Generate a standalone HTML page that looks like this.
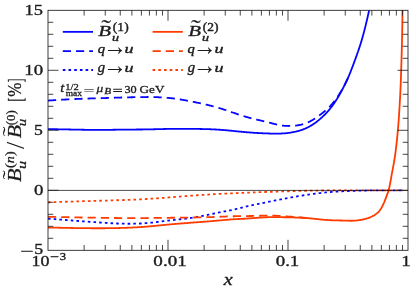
<!DOCTYPE html>
<html><head><meta charset="utf-8"><title>plot</title>
<style>html,body{margin:0;padding:0;background:#fff;}svg{display:block;will-change:transform;}</style></head>
<body>
<svg width="415" height="290" viewBox="0 0 415 290">
<rect width="415" height="290" fill="#fff"/>
<defs><clipPath id="c"><rect x="48.0" y="10.3" width="360.0" height="240.0"/></clipPath></defs>
<g clip-path="url(#c)" fill="none" stroke-linejoin="round">
<path d="M48.00,202.30L48.89,202.27L49.78,202.25L50.67,202.22L51.56,202.19L52.45,202.16L53.34,202.14L54.22,202.11L55.11,202.08L56.00,202.05L56.89,202.03L57.78,202.00L58.67,201.97L59.56,201.94L60.45,201.92L61.34,201.89L62.23,201.86L63.12,201.84L64.00,201.81L64.89,201.78L65.78,201.75L66.67,201.73L67.56,201.70L68.45,201.67L69.34,201.65L70.23,201.62L71.12,201.59L72.01,201.57L72.90,201.54L73.78,201.51L74.67,201.48L75.56,201.46L76.45,201.43L77.34,201.40L78.23,201.38L79.12,201.35L80.01,201.32L80.90,201.30L81.79,201.27L82.67,201.25L83.56,201.22L84.45,201.19L85.34,201.17L86.23,201.14L87.12,201.11L88.01,201.09L88.90,201.06L89.79,201.04L90.68,201.01L91.56,200.98L92.45,200.96L93.34,200.93L94.23,200.91L95.12,200.88L96.01,200.86L96.90,200.83L97.79,200.81L98.68,200.78L99.57,200.76L100.45,200.73L101.34,200.71L102.23,200.68L103.12,200.65L104.01,200.63L104.90,200.60L105.79,200.58L106.68,200.55L107.57,200.53L108.46,200.50L109.34,200.48L110.23,200.45L111.12,200.42L112.01,200.40L112.90,200.37L113.79,200.34L114.68,200.32L115.57,200.29L116.46,200.26L117.35,200.23L118.24,200.20L119.13,200.18L120.01,200.15L120.90,200.12L121.79,200.09L122.68,200.06L123.57,200.02L124.46,199.99L125.35,199.96L126.24,199.93L127.13,199.89L128.02,199.86L128.90,199.83L129.79,199.79L130.68,199.75L131.57,199.72L132.46,199.68L133.35,199.64L134.24,199.60L135.13,199.57L136.01,199.53L136.90,199.48L137.79,199.44L138.68,199.40L139.57,199.36L140.46,199.31L141.34,199.27L142.23,199.22L143.12,199.18L144.01,199.13L144.90,199.08L145.79,199.03L146.67,198.98L147.56,198.93L148.45,198.87L149.34,198.82L150.23,198.76L151.11,198.71L152.00,198.65L152.89,198.59L153.78,198.54L154.66,198.48L155.55,198.42L156.44,198.35L157.32,198.29L158.21,198.23L159.10,198.17L159.99,198.10L160.87,198.04L161.76,197.97L162.65,197.91L163.53,197.84L164.42,197.78L165.31,197.71L166.19,197.64L167.08,197.57L167.97,197.50L168.85,197.44L169.74,197.37L170.63,197.30L171.51,197.23L172.40,197.16L173.29,197.09L174.17,197.02L175.06,196.95L175.95,196.88L176.83,196.81L177.72,196.74L178.61,196.67L179.49,196.60L180.38,196.53L181.27,196.46L182.16,196.39L183.04,196.32L183.93,196.26L184.82,196.19L185.70,196.12L186.59,196.05L187.48,195.98L188.36,195.92L189.25,195.85L190.14,195.78L191.03,195.72L191.91,195.65L192.80,195.59L193.69,195.52L194.58,195.46L195.46,195.40L196.35,195.33L197.24,195.27L198.13,195.21L199.01,195.15L199.90,195.09L200.79,195.03L201.68,194.97L202.56,194.92L203.45,194.86L204.34,194.80L205.23,194.75L206.12,194.69L207.00,194.63L207.89,194.58L208.78,194.53L209.67,194.47L210.55,194.42L211.44,194.37L212.33,194.32L213.22,194.26L214.11,194.21L214.99,194.16L215.88,194.11L216.77,194.06L217.66,194.02L218.55,193.97L219.44,193.92L220.32,193.87L221.21,193.83L222.10,193.78L222.99,193.73L223.88,193.69L224.76,193.64L225.65,193.60L226.54,193.55L227.43,193.51L228.32,193.47L229.21,193.42L230.09,193.38L230.98,193.34L231.87,193.30L232.76,193.26L233.65,193.22L234.54,193.18L235.42,193.14L236.31,193.10L237.20,193.06L238.09,193.02L238.98,192.98L239.87,192.94L240.76,192.90L241.64,192.87L242.53,192.83L243.42,192.79L244.31,192.75L245.20,192.72L246.09,192.68L246.98,192.65L247.87,192.61L248.75,192.58L249.64,192.54L250.53,192.51L251.42,192.47L252.31,192.44L253.20,192.41L254.09,192.38L254.98,192.34L255.87,192.31L256.75,192.28L257.64,192.25L258.53,192.22L259.42,192.19L260.31,192.15L261.20,192.12L262.09,192.09L262.98,192.06L263.87,192.03L264.75,192.01L265.64,191.98L266.53,191.95L267.42,191.92L268.31,191.89L269.20,191.86L270.09,191.83L270.98,191.81L271.87,191.78L272.76,191.75L273.64,191.72L274.53,191.69L275.42,191.67L276.31,191.64L277.20,191.61L278.09,191.58L278.98,191.56L279.87,191.53L280.76,191.50L281.65,191.47L282.53,191.45L283.42,191.42L284.31,191.39L285.20,191.36L286.09,191.33L286.98,191.31L287.87,191.28L288.76,191.25L289.65,191.22L290.54,191.20L291.43,191.17L292.31,191.14L293.20,191.11L294.09,191.09L294.98,191.06L295.87,191.03L296.76,191.01L297.65,190.98L298.54,190.96L299.43,190.93L300.32,190.91L301.21,190.88L302.09,190.86L302.98,190.84L303.87,190.82L304.76,190.79L305.65,190.77L306.54,190.75L307.43,190.73L308.32,190.71L309.21,190.70L310.10,190.68L310.99,190.66L311.88,190.65L312.77,190.63L313.65,190.62L314.54,190.60L315.43,190.59L316.32,190.58L317.21,190.56L318.10,190.55L318.99,190.54L319.88,190.53L320.77,190.52L321.66,190.51L322.55,190.50L323.44,190.49L324.33,190.49L325.22,190.48L326.11,190.47L327.00,190.47L327.89,190.46L328.77,190.45L329.66,190.45L330.55,190.44L331.44,190.44L332.33,190.43L333.22,190.43L334.11,190.42L335.00,190.42L335.89,190.42L336.78,190.41L337.67,190.41L338.56,190.41L339.45,190.40L340.34,190.40L341.23,190.40L342.12,190.39L343.01,190.39L343.90,190.39L344.79,190.38L345.67,190.38L346.56,190.38L347.45,190.38L348.34,190.37L349.23,190.37L350.12,190.37L351.01,190.37L351.90,190.36L352.79,190.36L353.68,190.36L354.57,190.36L355.46,190.35L356.35,190.35L357.24,190.35L358.13,190.35L359.02,190.35L359.91,190.35L360.80,190.34L361.68,190.34L362.57,190.34L363.46,190.34L364.35,190.34L365.24,190.34L366.13,190.33L367.02,190.33L367.91,190.33L368.80,190.33L369.69,190.33L370.58,190.33L371.47,190.33L372.36,190.32L373.25,190.32L374.14,190.32L375.03,190.32L375.92,190.32L376.81,190.32L377.69,190.32L378.58,190.32L379.47,190.32L380.36,190.32L381.25,190.31L382.14,190.31L383.03,190.31L383.92,190.31L384.81,190.31L385.70,190.31L386.59,190.31L387.48,190.31L388.37,190.31L389.26,190.31L390.15,190.31L391.04,190.31L391.93,190.31L392.82,190.31L393.71,190.31L394.59,190.30L395.48,190.30L396.37,190.30L397.26,190.30L398.15,190.30L399.04,190.30L399.93,190.30L400.82,190.30L401.71,190.30L402.60,190.30" stroke="#ff3c00" stroke-width="1.8" stroke-dasharray="2.6 3.1"/>
<path d="M48.00,218.60L48.89,218.67L49.78,218.74L50.68,218.81L51.57,218.89L52.46,218.96L53.35,219.03L54.25,219.10L55.14,219.17L56.03,219.24L56.93,219.31L57.82,219.38L58.71,219.46L59.60,219.53L60.50,219.60L61.39,219.67L62.28,219.74L63.18,219.81L64.07,219.88L64.96,219.95L65.85,220.02L66.75,220.09L67.64,220.16L68.53,220.23L69.43,220.30L70.32,220.37L71.21,220.44L72.11,220.51L73.00,220.58L73.90,220.64L74.79,220.71L75.68,220.78L76.58,220.85L77.47,220.92L78.36,220.98L79.26,221.05L80.15,221.12L81.05,221.19L81.94,221.25L82.83,221.32L83.73,221.39L84.62,221.45L85.52,221.52L86.41,221.58L87.30,221.65L88.20,221.71L89.09,221.78L89.99,221.84L90.88,221.90L91.78,221.97L92.67,222.03L93.57,222.09L94.46,222.16L95.35,222.22L96.25,222.28L97.14,222.34L98.04,222.40L98.93,222.46L99.83,222.52L100.72,222.58L101.62,222.64L102.52,222.70L103.41,222.76L104.31,222.81L105.20,222.87L106.10,222.93L107.00,222.98L107.89,223.03L108.79,223.08L109.69,223.13L110.58,223.18L111.48,223.23L112.38,223.27L113.27,223.32L114.17,223.36L115.07,223.40L115.97,223.44L116.86,223.48L117.76,223.51L118.66,223.55L119.56,223.58L120.45,223.60L121.35,223.63L122.25,223.66L123.14,223.68L124.04,223.70L124.94,223.71L125.84,223.73L126.73,223.74L127.63,223.74L128.53,223.75L129.42,223.75L130.32,223.75L131.22,223.75L132.11,223.74L133.01,223.73L133.91,223.72L134.80,223.70L135.70,223.68L136.59,223.66L137.49,223.63L138.38,223.60L139.28,223.56L140.17,223.52L141.07,223.48L141.96,223.43L142.86,223.38L143.75,223.32L144.65,223.26L145.54,223.20L146.43,223.13L147.32,223.06L148.22,222.98L149.11,222.90L150.00,222.81L150.89,222.72L151.78,222.63L152.67,222.53L153.57,222.43L154.46,222.33L155.35,222.22L156.23,222.11L157.12,222.00L158.01,221.89L158.90,221.78L159.79,221.67L160.68,221.55L161.57,221.44L162.46,221.32L163.35,221.21L164.24,221.09L165.13,220.98L166.02,220.87L166.90,220.75L167.79,220.65L168.68,220.54L169.57,220.43L170.46,220.33L171.35,220.23L172.24,220.13L173.14,220.03L174.03,219.93L174.92,219.84L175.81,219.74L176.70,219.65L177.59,219.55L178.48,219.46L179.38,219.36L180.27,219.26L181.16,219.17L182.05,219.07L182.94,218.97L183.83,218.87L184.72,218.76L185.61,218.66L186.50,218.55L187.39,218.44L188.28,218.32L189.17,218.21L190.05,218.09L190.94,217.96L191.83,217.83L192.71,217.70L193.60,217.56L194.48,217.42L195.37,217.28L196.25,217.12L197.13,216.97L198.01,216.81L198.89,216.65L199.77,216.48L200.65,216.31L201.53,216.14L202.41,215.96L203.29,215.78L204.17,215.60L205.05,215.42L205.92,215.24L206.80,215.05L207.68,214.87L208.56,214.68L209.43,214.50L210.31,214.31L211.19,214.12L212.06,213.94L212.94,213.75L213.82,213.56L214.69,213.38L215.57,213.20L216.45,213.01L217.33,212.84L218.21,212.66L219.08,212.48L219.96,212.31L220.84,212.14L221.72,211.97L222.60,211.80L223.48,211.64L224.36,211.47L225.24,211.30L226.12,211.14L227.00,210.97L227.88,210.79L228.76,210.62L229.64,210.44L230.52,210.26L231.40,210.08L232.27,209.89L233.15,209.69L234.02,209.49L234.90,209.29L235.77,209.08L236.64,208.86L237.50,208.65L238.37,208.43L239.24,208.20L240.11,207.98L240.98,207.76L241.84,207.54L242.71,207.32L243.58,207.10L244.46,206.89L245.33,206.68L246.20,206.48L247.08,206.27L247.95,206.08L248.83,205.88L249.70,205.69L250.58,205.50L251.45,205.31L252.33,205.12L253.21,204.94L254.08,204.76L254.96,204.58L255.84,204.40L256.72,204.22L257.59,204.04L258.47,203.86L259.35,203.68L260.22,203.50L261.10,203.32L261.98,203.14L262.86,202.96L263.73,202.78L264.61,202.61L265.49,202.43L266.37,202.25L267.24,202.07L268.12,201.89L269.00,201.71L269.88,201.53L270.76,201.36L271.64,201.18L272.51,201.00L273.39,200.83L274.27,200.65L275.15,200.48L276.03,200.30L276.91,200.13L277.79,199.95L278.67,199.78L279.55,199.61L280.43,199.44L281.31,199.27L282.19,199.10L283.07,198.93L283.95,198.76L284.83,198.59L285.71,198.43L286.60,198.26L287.48,198.10L288.36,197.93L289.24,197.77L290.12,197.61L291.00,197.45L291.89,197.29L292.77,197.13L293.65,196.98L294.53,196.82L295.42,196.67L296.30,196.52L297.18,196.37L298.07,196.22L298.95,196.07L299.83,195.92L300.72,195.78L301.60,195.63L302.49,195.49L303.37,195.35L304.26,195.21L305.14,195.08L306.03,194.94L306.91,194.81L307.80,194.68L308.69,194.55L309.57,194.42L310.46,194.29L311.35,194.17L312.24,194.04L313.13,193.92L314.02,193.81L314.90,193.69L315.79,193.58L316.68,193.46L317.57,193.35L318.46,193.25L319.35,193.14L320.24,193.04L321.14,192.94L322.03,192.84L322.92,192.74L323.81,192.65L324.70,192.56L325.59,192.47L326.49,192.38L327.38,192.30L328.27,192.21L329.16,192.13L330.05,192.06L330.95,191.98L331.84,191.91L332.73,191.84L333.63,191.78L334.52,191.71L335.41,191.65L336.31,191.59L337.20,191.54L338.10,191.49L338.99,191.43L339.88,191.39L340.78,191.34L341.68,191.29L342.57,191.25L343.47,191.21L344.36,191.17L345.26,191.13L346.15,191.09L347.05,191.06L347.94,191.02L348.84,190.99L349.73,190.95L350.63,190.92L351.53,190.89L352.42,190.86L353.32,190.83L354.21,190.80L355.11,190.78L356.00,190.75L356.90,190.73L357.80,190.70L358.69,190.68L359.59,190.65L360.48,190.63L361.38,190.61L362.28,190.59L363.17,190.57L364.07,190.55L364.96,190.53L365.86,190.52L366.76,190.50L367.65,190.48L368.55,190.47L369.44,190.46L370.34,190.44L371.24,190.43L372.13,190.42L373.03,190.41L373.92,190.40L374.82,190.39L375.72,190.38L376.61,190.37L377.51,190.36L378.40,190.35L379.30,190.35L380.20,190.34L381.09,190.33L381.99,190.33L382.88,190.32L383.78,190.32L384.68,190.32L385.57,190.31L386.47,190.31L387.36,190.31L388.26,190.30L389.16,190.30L390.05,190.30L390.95,190.30L391.85,190.30L392.74,190.30L393.64,190.30L394.53,190.30L395.43,190.30L396.33,190.30L397.22,190.30L398.12,190.30L399.02,190.30L399.91,190.30L400.81,190.30L401.70,190.30L402.60,190.30" stroke="#0505ff" stroke-width="1.8" stroke-dasharray="2.6 3.1"/>
<path d="M48.00,216.75L48.68,216.77L49.36,216.78L50.04,216.80L50.71,216.81L51.39,216.83L52.07,216.84L52.75,216.86L53.43,216.87L54.11,216.89L54.79,216.91L55.47,216.92L56.14,216.94L56.82,216.95L57.50,216.97L58.18,216.99L58.86,217.00L59.54,217.02L60.22,217.04L60.89,217.05L61.57,217.07L62.25,217.08L62.93,217.10L63.61,217.12L64.29,217.13L64.97,217.15L65.64,217.16L66.32,217.18L67.00,217.20L67.68,217.21L68.36,217.23L69.04,217.24L69.72,217.26L70.39,217.27L71.07,217.29L71.75,217.31L72.43,217.32L73.11,217.34L73.79,217.35L74.47,217.37L75.14,217.38L75.82,217.39L76.50,217.41L77.18,217.42L77.86,217.44L78.54,217.45L79.21,217.46L79.89,217.48L80.57,217.49L81.25,217.50L81.93,217.52L82.61,217.53L83.29,217.54L83.96,217.56L84.64,217.57L85.32,217.58L86.00,217.59L86.68,217.60L87.36,217.61L88.03,217.62L88.71,217.63L89.39,217.65L90.07,217.66L90.75,217.66L91.43,217.67L92.11,217.68L92.78,217.69L93.46,217.70L94.14,217.71L94.82,217.72L95.50,217.72L96.18,217.73L96.85,217.74L97.53,217.75L98.21,217.75L98.89,217.76L99.57,217.77L100.25,217.77L100.92,217.78L101.60,217.79L102.28,217.80L102.96,217.80L103.64,217.81L104.32,217.82L105.00,217.83L105.67,217.84L106.35,217.85L107.03,217.86L107.71,217.87L108.39,217.88L109.07,217.89L109.75,217.90L110.42,217.91L111.10,217.92L111.78,217.93L112.46,217.94L113.14,217.95L113.82,217.96L114.50,217.98L115.18,217.99L115.85,218.00L116.53,218.01L117.21,218.02L117.89,218.03L118.57,218.04L119.25,218.05L119.93,218.05L120.60,218.06L121.28,218.07L121.96,218.08L122.64,218.09L123.32,218.10L124.00,218.10L124.68,218.11L125.35,218.12L126.03,218.13L126.71,218.13L127.39,218.14L128.07,218.14L128.75,218.15L129.42,218.15L130.10,218.16L130.78,218.16L131.46,218.16L132.14,218.16L132.81,218.16L133.49,218.17L134.17,218.17L134.85,218.17L135.53,218.16L136.20,218.16L136.88,218.16L137.56,218.16L138.24,218.15L138.92,218.15L139.59,218.14L140.27,218.14L140.95,218.13L141.63,218.12L142.30,218.11L142.98,218.10L143.66,218.09L144.33,218.08L145.01,218.07L145.69,218.05L146.36,218.04L147.04,218.02L147.72,218.01L148.40,217.99L149.07,217.97L149.75,217.96L150.42,217.95L151.10,217.94L151.78,217.93L152.45,217.92L153.13,217.91L153.80,217.90L154.48,217.90L155.15,217.89L155.83,217.89L156.50,217.88L157.18,217.88L157.86,217.88L158.53,217.88L159.21,217.87L159.88,217.87L160.56,217.87L161.23,217.87L161.91,217.86L162.58,217.86L163.26,217.86L163.93,217.85L164.61,217.85L165.28,217.84L165.96,217.84L166.63,217.83L167.31,217.82L167.98,217.82L168.66,217.81L169.34,217.79L170.01,217.78L170.69,217.77L171.36,217.76L172.04,217.75L172.72,217.74L173.39,217.74L174.07,217.73L174.75,217.72L175.42,217.71L176.10,217.70L176.77,217.70L177.45,217.69L178.13,217.68L178.80,217.67L179.48,217.67L180.16,217.66L180.83,217.65L181.51,217.65L182.19,217.64L182.86,217.63L183.54,217.63L184.22,217.62L184.89,217.61L185.57,217.60L186.25,217.60L186.92,217.59L187.60,217.58L188.28,217.58L188.95,217.57L189.63,217.56L190.31,217.55L190.98,217.54L191.66,217.53L192.34,217.52L193.01,217.51L193.69,217.50L194.36,217.49L195.04,217.48L195.72,217.47L196.39,217.46L197.07,217.45L197.75,217.44L198.42,217.42L199.10,217.41L199.78,217.40L200.45,217.38L201.13,217.37L201.81,217.35L202.48,217.33L203.16,217.32L203.84,217.30L204.51,217.28L205.19,217.27L205.86,217.25L206.54,217.23L207.22,217.21L207.89,217.19L208.57,217.17L209.25,217.15L209.92,217.13L210.60,217.11L211.28,217.09L211.95,217.06L212.63,217.04L213.31,217.02L213.98,216.99L214.66,216.97L215.33,216.94L216.01,216.92L216.69,216.89L217.36,216.87L218.04,216.84L218.72,216.81L219.39,216.78L220.07,216.76L220.75,216.73L221.42,216.70L222.10,216.67L222.77,216.64L223.45,216.61L224.13,216.58L224.80,216.56L225.48,216.53L226.15,216.50L226.83,216.47L227.51,216.45L228.18,216.42L228.86,216.40L229.53,216.37L230.21,216.35L230.89,216.33L231.56,216.31L232.24,216.29L232.92,216.27L233.59,216.26L234.27,216.24L234.95,216.23L235.63,216.22L236.30,216.21L236.98,216.20L237.66,216.19L238.34,216.18L239.01,216.17L239.69,216.16L240.37,216.15L241.05,216.14L241.73,216.13L242.40,216.12L243.08,216.11L243.76,216.10L244.44,216.09L245.11,216.08L245.79,216.07L246.47,216.06L247.15,216.05L247.82,216.04L248.50,216.03L249.18,216.02L249.85,216.01L250.53,216.00L251.21,215.99L251.88,215.98L252.56,215.96L253.24,215.95L253.91,215.93L254.59,215.92L255.27,215.90L255.94,215.89L256.62,215.87L257.30,215.85L257.97,215.83L258.65,215.81L259.33,215.79L260.01,215.77L260.68,215.75L261.36,215.72L262.04,215.70L262.72,215.68L263.40,215.66L264.07,215.64L264.75,215.63L265.43,215.61L266.11,215.60L266.78,215.59L267.46,215.58L268.14,215.57L268.82,215.57L269.50,215.57L270.18,215.57L270.85,215.58L271.53,215.59L272.21,215.61L272.89,215.62L273.57,215.65L274.24,215.67L274.92,215.70L275.60,215.73L276.28,215.77L276.96,215.80L277.64,215.84L278.32,215.88L279.00,215.92L279.67,215.97L280.35,216.01L281.03,216.06L281.71,216.10L282.39,216.15L283.07,216.19L283.75,216.23L284.42,216.28L285.10,216.32L285.78,216.36L286.46,216.40L287.14,216.45L287.82,216.49L288.49,216.53L289.17,216.57L289.85,216.62L290.53,216.66L291.21,216.70L291.89,216.75L292.57,216.79L293.24,216.84L293.92,216.88L294.60,216.93L295.28,216.98L295.96,217.02L296.64,217.07L297.32,217.13L297.99,217.18L298.67,217.24L299.35,217.30L300.03,217.37L300.71,217.43L301.38,217.50L302.06,217.57L302.74,217.63L303.42,217.70L304.09,217.77L304.77,217.84L305.45,217.91L306.13,217.98L306.80,218.04L307.48,218.11L308.16,218.17L308.83,218.24L309.51,218.30" stroke="#ff3c00" stroke-width="1.8" stroke-dasharray="8.2 5.0"/>
<path d="M48.00,100.60L48.67,100.55L49.34,100.51L50.01,100.47L50.68,100.42L51.35,100.38L52.02,100.33L52.69,100.29L53.36,100.24L54.02,100.20L54.69,100.16L55.36,100.12L56.03,100.07L56.70,100.03L57.37,99.99L58.04,99.95L58.71,99.91L59.38,99.87L60.05,99.82L60.72,99.78L61.39,99.74L62.06,99.71L62.73,99.67L63.40,99.63L64.07,99.59L64.74,99.55L65.40,99.51L66.07,99.48L66.74,99.44L67.41,99.40L68.08,99.37L68.75,99.33L69.42,99.30L70.09,99.26L70.76,99.23L71.43,99.20L72.10,99.16L72.77,99.13L73.44,99.10L74.11,99.07L74.78,99.04L75.45,99.01L76.12,98.98L76.79,98.95L77.46,98.92L78.12,98.89L78.79,98.87L79.46,98.84L80.13,98.81L80.80,98.79L81.47,98.76L82.14,98.74L82.81,98.71L83.48,98.69L84.15,98.67L84.82,98.64L85.49,98.62L86.16,98.60L86.83,98.58L87.50,98.55L88.17,98.53L88.84,98.51L89.51,98.49L90.18,98.47L90.84,98.45L91.51,98.43L92.18,98.41L92.85,98.39L93.52,98.37L94.19,98.35L94.86,98.34L95.53,98.32L96.20,98.30L96.87,98.28L97.54,98.26L98.21,98.25L98.88,98.23L99.55,98.21L100.22,98.19L100.89,98.18L101.56,98.16L102.23,98.14L102.90,98.12L103.57,98.10L104.23,98.08L104.90,98.06L105.57,98.04L106.24,98.01L106.91,97.99L107.58,97.97L108.25,97.95L108.92,97.92L109.59,97.90L110.26,97.88L110.93,97.85L111.60,97.83L112.27,97.81L112.94,97.78L113.61,97.76L114.28,97.73L114.95,97.71L115.62,97.69L116.29,97.66L116.96,97.64L117.62,97.62L118.29,97.60L118.96,97.57L119.63,97.55L120.30,97.53L120.97,97.51L121.64,97.49L122.31,97.47L122.98,97.45L123.65,97.43L124.32,97.41L124.99,97.39L125.66,97.38L126.33,97.36L127.00,97.35L127.67,97.33L128.34,97.32L129.01,97.30L129.68,97.29L130.35,97.28L131.02,97.26L131.68,97.25L132.35,97.24L133.02,97.23L133.69,97.22L134.36,97.21L135.03,97.20L135.70,97.19L136.37,97.18L137.04,97.17L137.71,97.16L138.38,97.15L139.05,97.14L139.72,97.13L140.39,97.12L141.06,97.11L141.73,97.10L142.40,97.09L143.07,97.08L143.74,97.07L144.41,97.06L145.08,97.05L145.74,97.04L146.41,97.03L147.08,97.02L147.75,97.00L148.42,96.99L149.09,96.99L149.76,96.98L150.43,96.98L151.10,96.99L151.77,96.99L152.44,97.01L153.11,97.02L153.78,97.04L154.45,97.06L155.12,97.08L155.79,97.11L156.45,97.14L157.12,97.17L157.79,97.20L158.46,97.24L159.13,97.28L159.80,97.32L160.47,97.36L161.14,97.40L161.81,97.45L162.48,97.50L163.15,97.54L163.82,97.59L164.49,97.64L165.16,97.69L165.83,97.75L166.49,97.80L167.16,97.85L167.83,97.91L168.50,97.96L169.17,98.01L169.84,98.07L170.51,98.13L171.18,98.20L171.85,98.27L172.52,98.34L173.19,98.42L173.86,98.50L174.53,98.59L175.20,98.68L175.87,98.77L176.54,98.86L177.21,98.96L177.88,99.06L178.55,99.16L179.22,99.27L179.89,99.38L180.55,99.49L181.22,99.60L181.89,99.72L182.56,99.84L183.23,99.96L183.90,100.08L184.57,100.20L185.24,100.32L185.91,100.45L186.58,100.57L187.25,100.70L187.92,100.83L188.59,100.95L189.26,101.08L189.93,101.21L190.60,101.34L191.27,101.47L191.94,101.60L192.61,101.73L193.28,101.86L193.95,101.99L194.62,102.12L195.28,102.25L195.95,102.38L196.62,102.52L197.29,102.65L197.96,102.79L198.63,102.93L199.30,103.07L199.97,103.21L200.64,103.36L201.31,103.50L201.98,103.65L202.65,103.80L203.32,103.95L203.99,104.11L204.66,104.26L205.33,104.42L206.00,104.58L206.67,104.74L207.34,104.90L208.01,105.06L208.68,105.23L209.34,105.39L210.01,105.56L210.68,105.73L211.35,105.90L212.02,106.08L212.69,106.25L213.36,106.43L214.03,106.61L214.70,106.79L215.37,106.97L216.03,107.16L216.70,107.35L217.37,107.53L218.04,107.72L218.71,107.92L219.37,108.11L220.04,108.31L220.71,108.51L221.38,108.71L222.04,108.92L222.71,109.13L223.38,109.34L224.05,109.56L224.71,109.78L225.38,110.00L226.05,110.22L226.71,110.44L227.38,110.67L228.05,110.90L228.71,111.13L229.38,111.36L230.04,111.59L230.71,111.82L231.38,112.05L232.04,112.28L232.71,112.51L233.38,112.74L234.04,112.97L234.71,113.20L235.37,113.43L236.04,113.66L236.71,113.89L237.37,114.12L238.04,114.34L238.71,114.56L239.37,114.79L240.04,115.00L240.71,115.22L241.37,115.44L242.04,115.65L242.71,115.86L243.38,116.06L244.04,116.26L244.71,116.46L245.38,116.66L246.05,116.85L246.71,117.04L247.38,117.22L248.05,117.41L248.72,117.59L249.38,117.77L250.05,117.94L250.72,118.12L251.39,118.29L252.06,118.46L252.73,118.63L253.39,118.79L254.06,118.96L254.73,119.12L255.40,119.28L256.07,119.44L256.73,119.60L257.40,119.76L258.07,119.92L258.74,120.08L259.41,120.23L260.08,120.39L260.75,120.54L261.41,120.70L262.08,120.86L262.75,121.01L263.42,121.17L264.09,121.33L264.76,121.48L265.43,121.64L266.10,121.80L266.76,121.96L267.43,122.12L268.10,122.28L268.77,122.44L269.44,122.61L270.11,122.78L270.78,122.96L271.45,123.14L272.12,123.32L272.79,123.51L273.46,123.69L274.13,123.88L274.80,124.06L275.47,124.24L276.14,124.41L276.81,124.58L277.48,124.74L278.15,124.90L278.82,125.04L279.49,125.17L280.16,125.30L280.83,125.40L281.49,125.50L282.16,125.58L282.83,125.66L283.50,125.72L284.17,125.78L284.84,125.83L285.51,125.88L286.18,125.91L286.84,125.94L287.51,125.96L288.18,125.97L288.85,125.98L289.51,125.97L290.18,125.96L290.84,125.94L291.50,125.92L292.16,125.88L292.81,125.84L293.47,125.79L294.12,125.74L294.77,125.68L295.43,125.61L296.08,125.53L296.73,125.45L297.38,125.35L298.04,125.25L298.69,125.14L299.34,125.03L299.98,124.90L300.63,124.76L301.27,124.62L301.91,124.47L302.54,124.30L303.17,124.13L303.80,123.94L304.42,123.75L305.04,123.54L305.65,123.33L306.25,123.10L306.85,122.86L307.44,122.61L308.04,122.35L308.63,122.07L309.22,121.79L309.81,121.50L310.39,121.20L310.97,120.89L311.55,120.57L312.12,120.24L312.69,119.91L313.26,119.57L313.82,119.22L314.38,118.87L314.93,118.51L315.48,118.15L316.02,117.79L316.56,117.42L317.09,117.04L317.62,116.67L318.14,116.29L318.66,115.90L319.17,115.52L319.68,115.14L320.18,114.76L320.69,114.37L321.19,113.99L321.68,113.61L322.18,113.23L322.67,112.85L323.16,112.46L323.64,112.08L324.12,111.69L324.60,111.30L325.07,110.91L325.54,110.51L326.01,110.11L326.47,109.71L326.93,109.31L327.38,108.90L327.83,108.48L328.27,108.06L328.71,107.64L329.15,107.21L329.58,106.77L330.01,106.33L330.43,105.89L330.85,105.43L331.26,104.98L331.66,104.51L332.06,104.05L332.46,103.58L332.85,103.11L333.24,102.64L333.63,102.16L334.01,101.69L334.39,101.20L334.77,100.72L335.14,100.23L335.51,99.74L335.87,99.25L336.23,98.75L336.59,98.25L336.95,97.75L337.30,97.24L337.65,96.73L337.99,96.21L338.34,95.69L338.68,95.17L339.02,94.64L339.36,94.11L339.69,93.58L340.02,93.04L340.35,92.49L340.68,91.95L341.00,91.39L341.33,90.84L341.65,90.29L341.97,89.73L342.28,89.18L342.60,88.62L342.91,88.06L343.22,87.50L343.53,86.94L343.83,86.37L344.13,85.81L344.43,85.24L344.73,84.67L345.03,84.09L345.32,83.52L345.61,82.94L345.90,82.36L346.19,81.77L346.47,81.18L346.76,80.59L347.04,80.00L347.31,79.40L347.59,78.80L347.86,78.20L348.13,77.59L348.40,76.98L348.67,76.36L348.93,75.75" stroke="#0505ff" stroke-width="1.8" stroke-dasharray="8.2 5.0"/>
<path d="M48.00,227.50L48.68,227.52L49.36,227.53L50.04,227.55L50.71,227.56L51.39,227.58L52.07,227.59L52.75,227.61L53.43,227.62L54.11,227.64L54.79,227.65L55.47,227.67L56.14,227.68L56.82,227.70L57.50,227.71L58.18,227.72L58.86,227.74L59.54,227.75L60.22,227.77L60.89,227.78L61.57,227.80L62.25,227.81L62.93,227.82L63.61,227.84L64.29,227.85L64.97,227.87L65.64,227.88L66.32,227.89L67.00,227.91L67.68,227.92L68.36,227.93L69.04,227.94L69.72,227.96L70.39,227.97L71.07,227.98L71.75,227.99L72.43,228.00L73.11,228.02L73.79,228.03L74.47,228.04L75.14,228.05L75.82,228.06L76.50,228.07L77.18,228.08L77.86,228.09L78.54,228.10L79.21,228.11L79.89,228.12L80.57,228.13L81.25,228.14L81.93,228.14L82.61,228.15L83.29,228.16L83.96,228.17L84.64,228.18L85.32,228.18L86.00,228.19L86.68,228.20L87.36,228.20L88.03,228.21L88.71,228.21L89.39,228.22L90.07,228.22L90.75,228.23L91.43,228.23L92.11,228.23L92.78,228.24L93.46,228.24L94.14,228.24L94.82,228.24L95.50,228.25L96.18,228.25L96.85,228.25L97.53,228.25L98.21,228.25L98.89,228.25L99.57,228.25L100.25,228.25L100.92,228.25L101.60,228.24L102.28,228.24L102.96,228.24L103.64,228.24L104.32,228.23L105.00,228.23L105.67,228.22L106.35,228.22L107.03,228.21L107.71,228.21L108.39,228.20L109.07,228.19L109.75,228.18L110.42,228.17L111.10,228.16L111.78,228.15L112.46,228.14L113.14,228.13L113.82,228.12L114.50,228.11L115.18,228.10L115.85,228.08L116.53,228.07L117.21,228.05L117.89,228.04L118.57,228.02L119.25,228.00L119.93,227.99L120.60,227.97L121.28,227.95L121.96,227.93L122.64,227.91L123.32,227.89L124.00,227.86L124.68,227.84L125.35,227.82L126.03,227.79L126.71,227.77L127.39,227.74L128.07,227.71L128.75,227.69L129.42,227.66L130.10,227.63L130.78,227.60L131.46,227.57L132.14,227.53L132.81,227.50L133.49,227.47L134.17,227.43L134.85,227.40L135.53,227.36L136.20,227.32L136.88,227.28L137.56,227.24L138.24,227.20L138.92,227.16L139.59,227.12L140.27,227.07L140.95,227.03L141.63,226.98L142.30,226.94L142.98,226.89L143.66,226.84L144.33,226.79L145.01,226.74L145.69,226.69L146.36,226.63L147.04,226.58L147.72,226.52L148.40,226.47L149.07,226.41L149.75,226.35L150.42,226.29L151.10,226.23L151.78,226.17L152.45,226.11L153.13,226.04L153.80,225.98L154.48,225.92L155.15,225.85L155.83,225.79L156.50,225.72L157.18,225.65L157.86,225.59L158.53,225.52L159.21,225.45L159.88,225.39L160.56,225.32L161.23,225.25L161.91,225.19L162.58,225.12L163.26,225.05L163.93,224.99L164.61,224.92L165.28,224.85L165.96,224.79L166.63,224.72L167.31,224.66L167.98,224.59L168.66,224.53L169.34,224.47L170.01,224.41L170.69,224.35L171.36,224.28L172.04,224.22L172.72,224.17L173.39,224.11L174.07,224.05L174.75,223.99L175.42,223.93L176.10,223.88L176.77,223.82L177.45,223.77L178.13,223.71L178.80,223.66L179.48,223.60L180.16,223.55L180.83,223.49L181.51,223.44L182.19,223.39L182.86,223.34L183.54,223.28L184.22,223.23L184.89,223.18L185.57,223.13L186.25,223.08L186.92,223.03L187.60,222.98L188.28,222.93L188.95,222.87L189.63,222.82L190.31,222.77L190.98,222.72L191.66,222.67L192.34,222.62L193.01,222.57L193.69,222.52L194.36,222.47L195.04,222.42L195.72,222.37L196.39,222.32L197.07,222.27L197.75,222.22L198.42,222.17L199.10,222.12L199.78,222.07L200.45,222.02L201.13,221.97L201.81,221.91L202.48,221.86L203.16,221.81L203.84,221.76L204.51,221.71L205.19,221.65L205.86,221.60L206.54,221.55L207.22,221.49L207.89,221.44L208.57,221.39L209.25,221.33L209.92,221.28L210.60,221.22L211.28,221.17L211.95,221.11L212.63,221.05L213.31,221.00L213.98,220.94L214.66,220.88L215.33,220.82L216.01,220.76L216.69,220.71L217.36,220.65L218.04,220.59L218.72,220.53L219.39,220.46L220.07,220.40L220.75,220.34L221.42,220.28L222.10,220.22L222.77,220.15L223.45,220.09L224.13,220.03L224.80,219.97L225.48,219.91L226.15,219.85L226.83,219.79L227.51,219.73L228.18,219.68L228.86,219.62L229.53,219.57L230.21,219.51L230.89,219.46L231.56,219.41L232.24,219.36L232.92,219.32L233.59,219.27L234.27,219.23L234.95,219.19L235.63,219.16L236.30,219.12L236.98,219.09L237.66,219.06L238.34,219.02L239.01,218.99L239.69,218.96L240.37,218.93L241.05,218.90L241.73,218.87L242.40,218.83L243.08,218.80L243.76,218.76L244.44,218.73L245.11,218.69L245.79,218.65L246.47,218.60L247.15,218.56L247.82,218.51L248.50,218.47L249.18,218.42L249.85,218.37L250.53,218.32L251.21,218.27L251.88,218.22L252.56,218.17L253.24,218.12L253.91,218.07L254.59,218.02L255.27,217.97L255.94,217.92L256.62,217.87L257.30,217.82L257.97,217.77L258.65,217.72L259.33,217.68L260.01,217.63L260.68,217.59L261.36,217.54L262.04,217.50L262.72,217.46L263.40,217.42L264.07,217.38L264.75,217.34L265.43,217.31L266.11,217.28L266.78,217.25L267.46,217.22L268.14,217.19L268.82,217.17L269.50,217.15L270.18,217.13L270.85,217.12L271.53,217.11L272.21,217.10L272.89,217.09L273.57,217.09L274.24,217.09L274.92,217.09L275.60,217.09L276.28,217.10L276.96,217.11L277.64,217.12L278.32,217.13L279.00,217.14L279.67,217.15L280.35,217.17L281.03,217.18L281.71,217.20L282.39,217.21L283.07,217.23L283.75,217.24L284.42,217.26L285.10,217.27L285.78,217.29L286.46,217.30L287.14,217.32L287.82,217.33L288.49,217.34L289.17,217.36L289.85,217.37L290.53,217.39L291.21,217.40L291.89,217.42L292.57,217.43L293.24,217.45L293.92,217.47L294.60,217.49L295.28,217.50L295.96,217.53L296.64,217.55L297.32,217.57L297.99,217.59L298.67,217.62L299.35,217.65L300.03,217.67L300.71,217.71L301.38,217.74L302.06,217.77L302.74,217.81L303.42,217.85L304.09,217.89L304.77,217.93L305.45,217.97L306.13,218.02L306.80,218.07L307.48,218.12L308.16,218.18L308.83,218.24L309.51,218.30L310.19,218.36L310.86,218.43L311.54,218.49L312.21,218.56L312.89,218.63L313.56,218.71L314.24,218.78L314.91,218.86L315.58,218.93L316.26,219.01L316.93,219.08L317.61,219.15L318.28,219.23L318.96,219.30L319.63,219.37L320.31,219.44L320.98,219.51L321.66,219.58L322.33,219.64L323.01,219.71L323.68,219.77L324.36,219.82L325.04,219.88L325.71,219.93L326.39,219.97L327.07,220.02L327.75,220.06L328.42,220.10L329.10,220.14L329.78,220.17L330.46,220.21L331.14,220.24L331.81,220.26L332.49,220.29L333.17,220.32L333.85,220.34L334.53,220.36L335.20,220.38L335.88,220.40L336.56,220.41L337.24,220.43L337.92,220.44L338.60,220.46L339.27,220.47L339.95,220.48L340.63,220.50L341.31,220.51L341.99,220.52L342.67,220.54L343.35,220.55L344.02,220.57L344.70,220.59L345.38,220.61L346.06,220.63L346.74,220.66L347.42,220.68L348.09,220.70L348.77,220.72L349.45,220.73L350.13,220.75L350.81,220.75L351.49,220.75L352.16,220.74L352.84,220.72L353.52,220.70L354.20,220.67L354.88,220.63L355.56,220.58L356.23,220.53L356.91,220.46L357.58,220.39L358.26,220.31L358.93,220.22L359.60,220.12L360.27,220.01L360.94,219.90L361.61,219.77L362.28,219.64L362.94,219.50L363.60,219.35L364.26,219.19L364.92,219.02L365.58,218.84L366.23,218.66L366.89,218.46L367.54,218.25L368.18,218.03L368.82,217.80L369.45,217.56L370.07,217.31L370.69,217.05L371.31,216.77L371.93,216.48L372.54,216.17L373.14,215.85L373.74,215.52L374.33,215.17L374.90,214.80L375.47,214.42L376.02,214.02L376.55,213.60L377.07,213.17L377.59,212.72L378.09,212.25L378.57,211.77L379.03,211.27L379.46,210.75L379.87,210.22L380.26,209.67L380.64,209.11L381.01,208.54L381.36,207.96L381.71,207.37L382.04,206.77L382.36,206.17L382.67,205.56L382.97,204.95L383.26,204.33L383.54,203.71L383.82,203.09L384.08,202.47L384.35,201.85L384.60,201.22L384.86,200.59L385.12,199.96L385.37,199.33L385.62,198.70L385.86,198.07L386.10,197.43L386.34,196.80L386.58,196.16L386.81,195.52L387.04,194.89L387.27,194.25L387.51,193.61L387.74,192.97L387.97,192.33L388.19,191.68L388.39,191.04L388.58,190.39L388.75,189.74L388.91,189.09L389.07,188.43L389.22,187.78L389.37,187.12L389.51,186.46L389.65,185.80L389.79,185.14L389.92,184.47L390.05,183.81L390.18,183.14L390.31,182.47L390.43,181.80L390.55,181.14L390.67,180.47L390.79,179.79L390.91,179.12L391.02,178.45L391.14,177.78L391.26,177.11L391.37,176.43L391.49,175.76L391.61,175.09L391.73,174.42L391.85,173.75L391.98,173.08L392.10,172.41L392.23,171.74L392.36,171.07L392.48,170.40L392.61,169.73L392.74,169.06L392.87,168.39L392.99,167.72L393.12,167.06L393.24,166.39L393.37,165.72L393.49,165.05L393.62,164.39L393.74,163.72L393.86,163.05L393.98,162.39L394.10,161.72L394.21,161.05L394.32,160.38L394.43,159.72L394.54,159.05L394.65,158.38L394.75,157.71L394.85,157.04L394.95,156.37L395.04,155.70L395.13,155.03L395.22,154.36L395.31,153.69L395.40,153.02L395.49,152.35L395.58,151.68L395.67,151.01L395.75,150.34L395.84,149.66L395.92,148.99L396.00,148.32L396.08,147.64L396.16,146.97L396.24,146.30L396.32,145.62L396.40,144.95L396.47,144.27L396.55,143.60L396.63,142.92L396.70,142.25L396.77,141.57L396.84,140.90L396.92,140.22L396.99,139.55L397.06,138.87L397.13,138.19L397.19,137.52L397.26,136.84L397.33,136.16L397.39,135.49L397.46,134.81L397.52,134.13L397.59,133.46L397.65,132.78L397.71,132.10L397.77,131.43L397.83,130.75L397.89,130.07L397.95,129.40L398.01,128.72L398.07,128.04L398.13,127.37L398.18,126.69L398.24,126.01L398.29,125.34L398.35,124.66L398.40,123.98L398.45,123.31L398.51,122.63L398.56,121.95L398.61,121.28L398.66,120.60L398.71,119.92L398.76,119.25L398.80,118.57L398.85,117.89L398.90,117.22L398.94,116.54L398.99,115.86L399.03,115.19L399.07,114.51L399.12,113.83L399.16,113.16L399.20,112.48L399.24,111.80L399.28,111.13L399.32,110.45L399.36,109.77L399.41,109.09L399.45,108.42L399.49,107.74L399.53,107.06L399.57,106.38L399.61,105.71L399.64,105.03L399.68,104.35L399.72,103.68L399.76,103.00L399.80,102.32L399.84,101.64L399.88,100.97L399.91,100.29L399.95,99.61L399.99,98.93L400.02,98.25L400.06,97.58L400.10,96.90L400.13,96.22L400.17,95.54L400.20,94.87L400.24,94.19L400.27,93.51L400.31,92.83L400.34,92.15L400.37,91.48L400.41,90.80L400.44,90.12L400.47,89.44L400.50,88.76L400.53,88.09L400.56,87.41L400.59,86.73L400.62,86.05L400.65,85.37L400.68,84.70L400.71,84.02L400.74,83.34L400.76,82.66L400.79,81.98L400.82,81.31L400.84,80.63L400.87,79.95L400.89,79.27L400.91,78.59L400.94,77.91L400.96,77.24L400.98,76.56L401.00,75.88L401.02,75.20L401.05,74.52L401.07,73.84L401.09,73.17L401.11,72.49L401.13,71.81L401.15,71.13L401.17,70.45L401.19,69.78L401.21,69.10L401.23,68.42L401.26,67.74L401.28,67.06L401.30,66.38L401.32,65.71L401.34,65.03L401.36,64.35L401.38,63.67L401.40,62.99L401.42,62.31L401.44,61.64L401.46,60.96L401.48,60.28L401.50,59.60L401.52,58.92L401.54,58.24L401.56,57.57L401.58,56.89L401.60,56.21L401.62,55.53L401.63,54.85L401.65,54.17L401.67,53.49L401.69,52.82L401.71,52.14L401.73,51.46L401.75,50.78L401.77,50.10L401.78,49.42L401.80,48.75L401.82,48.07L401.84,47.39L401.85,46.71L401.87,46.03L401.89,45.35L401.91,44.68L401.92,44.00L401.94,43.32L401.96,42.64L401.97,41.96L401.99,41.28L402.00,40.60L402.02,39.93L402.04,39.25L402.05,38.57L402.07,37.89L402.08,37.21L402.10,36.53L402.11,35.86L402.13,35.18L402.14,34.50L402.15,33.82L402.17,33.14L402.18,32.46L402.19,31.78L402.21,31.11L402.22,30.43L402.23,29.75L402.24,29.07L402.26,28.39L402.27,27.71L402.28,27.03L402.29,26.36L402.30,25.68L402.31,25.00L402.32,24.32L402.33,23.64L402.34,22.96L402.35,22.28L402.36,21.61L402.37,20.93L402.38,20.25L402.39,19.57L402.40,18.89L402.41,18.21L402.42,17.54L402.42,16.86L402.43,16.18L402.44,15.50L402.44,14.82L402.45,14.14L402.46,13.46L402.46,12.79L402.47,12.11L402.47,11.43L402.48,10.75L402.48,10.07L402.49,9.39L402.49,8.71L402.49,8.04L402.50,7.36L402.50,6.68L402.50,6.00" stroke="#ff3c00" stroke-width="1.8"/>
<path d="M48.00,129.10L48.67,129.11L49.34,129.12L50.01,129.14L50.68,129.15L51.35,129.16L52.02,129.17L52.69,129.19L53.36,129.20L54.02,129.21L54.69,129.22L55.36,129.24L56.03,129.25L56.70,129.26L57.37,129.27L58.04,129.28L58.71,129.30L59.38,129.31L60.05,129.32L60.72,129.33L61.39,129.35L62.06,129.36L62.73,129.37L63.40,129.38L64.07,129.40L64.74,129.41L65.40,129.42L66.07,129.43L66.74,129.45L67.41,129.46L68.08,129.47L68.75,129.48L69.42,129.50L70.09,129.51L70.76,129.52L71.43,129.53L72.10,129.55L72.77,129.56L73.44,129.57L74.11,129.58L74.78,129.60L75.45,129.61L76.12,129.62L76.79,129.63L77.46,129.65L78.12,129.66L78.79,129.67L79.46,129.68L80.13,129.70L80.80,129.71L81.47,129.72L82.14,129.73L82.81,129.74L83.48,129.75L84.15,129.77L84.82,129.78L85.49,129.79L86.16,129.80L86.83,129.81L87.50,129.82L88.17,129.82L88.84,129.83L89.51,129.84L90.18,129.85L90.84,129.86L91.51,129.86L92.18,129.87L92.85,129.88L93.52,129.88L94.19,129.89L94.86,129.89L95.53,129.89L96.20,129.90L96.87,129.90L97.54,129.90L98.21,129.90L98.88,129.90L99.55,129.90L100.22,129.90L100.89,129.90L101.56,129.89L102.23,129.89L102.90,129.89L103.57,129.88L104.23,129.88L104.90,129.87L105.57,129.86L106.24,129.86L106.91,129.85L107.58,129.84L108.25,129.83L108.92,129.83L109.59,129.82L110.26,129.81L110.93,129.80L111.60,129.79L112.27,129.78L112.94,129.77L113.61,129.76L114.28,129.75L114.95,129.74L115.62,129.73L116.29,129.72L116.96,129.71L117.62,129.70L118.29,129.69L118.96,129.68L119.63,129.67L120.30,129.66L120.97,129.65L121.64,129.64L122.31,129.63L122.98,129.62L123.65,129.61L124.32,129.61L124.99,129.60L125.66,129.59L126.33,129.59L127.00,129.58L127.67,129.58L128.34,129.57L129.01,129.57L129.68,129.56L130.35,129.56L131.02,129.55L131.68,129.55L132.35,129.55L133.02,129.54L133.69,129.54L134.36,129.53L135.03,129.53L135.70,129.53L136.37,129.52L137.04,129.52L137.71,129.51L138.38,129.51L139.05,129.51L139.72,129.50L140.39,129.50L141.06,129.49L141.73,129.48L142.40,129.48L143.07,129.47L143.74,129.46L144.41,129.45L145.08,129.45L145.74,129.44L146.41,129.43L147.08,129.42L147.75,129.40L148.42,129.39L149.09,129.38L149.76,129.37L150.43,129.35L151.10,129.34L151.77,129.32L152.44,129.31L153.11,129.29L153.78,129.27L154.45,129.26L155.12,129.24L155.79,129.22L156.45,129.20L157.12,129.18L157.79,129.17L158.46,129.15L159.13,129.13L159.80,129.11L160.47,129.09L161.14,129.08L161.81,129.06L162.48,129.04L163.15,129.03L163.82,129.01L164.49,128.99L165.16,128.98L165.83,128.96L166.49,128.95L167.16,128.93L167.83,128.92L168.50,128.91L169.17,128.90L169.84,128.89L170.51,128.88L171.18,128.87L171.85,128.86L172.52,128.85L173.19,128.84L173.86,128.84L174.53,128.83L175.20,128.83L175.87,128.82L176.54,128.82L177.21,128.82L177.88,128.81L178.55,128.81L179.22,128.81L179.89,128.81L180.55,128.81L181.22,128.81L181.89,128.81L182.56,128.81L183.23,128.82L183.90,128.82L184.57,128.82L185.24,128.82L185.91,128.83L186.58,128.83L187.25,128.84L187.92,128.84L188.59,128.85L189.26,128.85L189.93,128.86L190.60,128.86L191.27,128.87L191.94,128.88L192.61,128.88L193.28,128.89L193.95,128.90L194.62,128.91L195.28,128.92L195.95,128.92L196.62,128.93L197.29,128.94L197.96,128.95L198.63,128.96L199.30,128.97L199.97,128.98L200.64,128.99L201.31,129.00L201.98,129.02L202.65,129.03L203.32,129.04L203.99,129.06L204.66,129.08L205.33,129.09L206.00,129.11L206.67,129.13L207.34,129.15L208.01,129.17L208.68,129.19L209.34,129.21L210.01,129.24L210.68,129.26L211.35,129.29L212.02,129.32L212.69,129.35L213.36,129.38L214.03,129.41L214.70,129.44L215.37,129.48L216.03,129.52L216.70,129.55L217.37,129.59L218.04,129.64L218.71,129.68L219.37,129.73L220.04,129.77L220.71,129.82L221.38,129.87L222.04,129.92L222.71,129.98L223.38,130.03L224.05,130.09L224.71,130.15L225.38,130.20L226.05,130.26L226.71,130.32L227.38,130.39L228.05,130.45L228.71,130.51L229.38,130.58L230.04,130.64L230.71,130.70L231.38,130.77L232.04,130.84L232.71,130.90L233.38,130.97L234.04,131.04L234.71,131.10L235.37,131.17L236.04,131.24L236.71,131.30L237.37,131.37L238.04,131.43L238.71,131.50L239.37,131.57L240.04,131.63L240.71,131.69L241.37,131.76L242.04,131.82L242.71,131.88L243.38,131.94L244.04,132.00L244.71,132.06L245.38,132.12L246.05,132.18L246.71,132.23L247.38,132.29L248.05,132.34L248.72,132.40L249.38,132.45L250.05,132.50L250.72,132.55L251.39,132.60L252.06,132.64L252.73,132.69L253.39,132.74L254.06,132.78L254.73,132.82L255.40,132.87L256.07,132.91L256.73,132.95L257.40,132.99L258.07,133.02L258.74,133.06L259.41,133.10L260.08,133.13L260.75,133.17L261.41,133.20L262.08,133.23L262.75,133.26L263.42,133.29L264.09,133.32L264.76,133.35L265.43,133.38L266.10,133.40L266.76,133.43L267.43,133.45L268.10,133.47L268.77,133.49L269.44,133.51L270.11,133.53L270.78,133.55L271.45,133.57L272.12,133.58L272.79,133.59L273.46,133.60L274.13,133.61L274.80,133.62L275.47,133.62L276.14,133.62L276.81,133.62L277.48,133.61L278.15,133.60L278.82,133.59L279.49,133.58L280.16,133.55L280.83,133.53L281.49,133.50L282.16,133.47L282.83,133.43L283.50,133.39L284.17,133.34L284.84,133.28L285.51,133.23L286.18,133.16L286.84,133.10L287.51,133.02L288.18,132.94L288.85,132.86L289.51,132.77L290.18,132.67L290.84,132.57L291.50,132.46L292.16,132.35L292.81,132.23L293.47,132.11L294.12,131.98L294.77,131.84L295.43,131.69L296.08,131.54L296.73,131.38L297.38,131.22L298.04,131.05L298.69,130.87L299.34,130.68L299.98,130.49L300.63,130.29L301.27,130.08L301.91,129.86L302.54,129.64L303.17,129.40L303.80,129.16L304.42,128.91L305.04,128.66L305.65,128.39L306.25,128.12L306.85,127.83L307.44,127.54L308.04,127.24L308.63,126.93L309.22,126.62L309.81,126.29L310.39,125.96L310.97,125.62L311.55,125.27L312.12,124.92L312.69,124.56L313.26,124.19L313.82,123.81L314.38,123.43L314.93,123.05L315.48,122.65L316.02,122.25L316.56,121.85L317.09,121.44L317.62,121.03L318.14,120.61L318.66,120.18L319.17,119.76L319.68,119.32L320.18,118.89L320.69,118.44L321.19,118.00L321.68,117.55L322.18,117.10L322.67,116.64L323.16,116.18L323.64,115.71L324.12,115.24L324.60,114.77L325.07,114.29L325.54,113.81L326.01,113.32L326.47,112.83L326.93,112.34L327.38,111.84L327.83,111.34L328.27,110.84L328.71,110.33L329.15,109.82L329.58,109.31L330.01,108.79L330.43,108.27L330.85,107.75L331.26,107.22L331.66,106.69L332.06,106.15L332.46,105.61L332.85,105.07L333.24,104.53L333.63,103.98L334.01,103.44L334.39,102.88L334.77,102.33L335.14,101.77L335.51,101.21L335.87,100.65L336.23,100.09L336.59,99.52L336.95,98.95L337.30,98.38L337.65,97.81L337.99,97.23L338.34,96.66L338.68,96.08L339.02,95.50L339.36,94.92L339.69,94.34L340.02,93.75L340.35,93.17L340.68,92.58L341.00,91.99L341.33,91.41L341.65,90.82L341.97,90.23L342.28,89.64L342.60,89.04L342.91,88.45L343.22,87.86L343.53,87.26L343.83,86.66L344.13,86.07L344.43,85.47L344.73,84.87L345.03,84.27L345.32,83.67L345.61,83.06L345.90,82.46L346.19,81.86L346.47,81.25L346.76,80.64L347.04,80.03L347.31,79.43L347.59,78.82L347.86,78.20L348.13,77.59L348.40,76.98L348.67,76.36L348.93,75.75L349.19,75.13L349.45,74.52L349.71,73.90L349.96,73.28L350.21,72.66L350.46,72.04L350.71,71.42L350.96,70.79L351.20,70.17L351.44,69.55L351.69,68.92L351.93,68.30L352.16,67.67L352.40,67.04L352.64,66.42L352.87,65.79L353.11,65.16L353.34,64.53L353.57,63.91L353.80,63.28L354.03,62.65L354.26,62.02L354.49,61.39L354.72,60.76L354.95,60.13L355.18,59.50L355.41,58.87L355.64,58.24L355.87,57.61L356.10,56.98L356.32,56.35L356.55,55.72L356.78,55.09L357.00,54.46L357.23,53.83L357.45,53.20L357.67,52.56L357.89,51.93L358.12,51.30L358.33,50.67L358.55,50.03L358.77,49.40L358.98,48.76L359.20,48.13L359.41,47.50L359.62,46.86L359.83,46.22L360.03,45.59L360.24,44.95L360.44,44.31L360.64,43.67L360.84,43.04L361.03,42.40L361.22,41.76L361.42,41.12L361.61,40.48L361.79,39.83L361.98,39.19L362.17,38.55L362.35,37.90L362.53,37.26L362.71,36.62L362.89,35.97L363.07,35.33L363.25,34.68L363.43,34.03L363.60,33.39L363.77,32.74L363.94,32.09L364.12,31.44L364.28,30.80L364.45,30.15L364.62,29.50L364.79,28.85L364.95,28.20L365.11,27.55L365.28,26.90L365.44,26.25L365.60,25.60L365.76,24.95L365.92,24.30L366.08,23.64L366.23,22.99L366.39,22.34L366.55,21.69L366.70,21.04L366.86,20.38L367.01,19.73L367.16,19.08L367.31,18.43L367.46,17.77L367.61,17.12L367.76,16.47L367.91,15.81L368.06,15.16L368.20,14.51L368.35,13.85L368.49,13.20L368.63,12.54L368.77,11.89L368.91,11.24L369.05,10.58L369.19,9.93L369.33,9.27L369.47,8.62L369.60,7.96L369.74,7.31L369.87,6.65L370.00,6.00" stroke="#0505ff" stroke-width="1.8"/>
</g>
<path d="M48.0,190.4H408.0" stroke="#000" stroke-width="0.7" fill="none"/>
<path d="M84.12,250.3v-5.3M84.12,10.3v5.3M105.25,250.3v-5.3M105.25,10.3v5.3M120.25,250.3v-5.3M120.25,10.3v5.3M131.88,250.3v-5.3M131.88,10.3v5.3M141.38,250.3v-5.3M141.38,10.3v5.3M149.41,250.3v-5.3M149.41,10.3v5.3M156.37,250.3v-5.3M156.37,10.3v5.3M162.51,250.3v-5.3M162.51,10.3v5.3M168.00,250.3v-10.5M168.00,10.3v10.5M204.12,250.3v-5.3M204.12,10.3v5.3M225.25,250.3v-5.3M225.25,10.3v5.3M240.25,250.3v-5.3M240.25,10.3v5.3M251.88,250.3v-5.3M251.88,10.3v5.3M261.38,250.3v-5.3M261.38,10.3v5.3M269.41,250.3v-5.3M269.41,10.3v5.3M276.37,250.3v-5.3M276.37,10.3v5.3M282.51,250.3v-5.3M282.51,10.3v5.3M288.00,250.3v-10.5M288.00,10.3v10.5M324.12,250.3v-5.3M324.12,10.3v5.3M345.25,250.3v-5.3M345.25,10.3v5.3M360.25,250.3v-5.3M360.25,10.3v5.3M371.88,250.3v-5.3M371.88,10.3v5.3M381.38,250.3v-5.3M381.38,10.3v5.3M389.41,250.3v-5.3M389.41,10.3v5.3M396.37,250.3v-5.3M396.37,10.3v5.3M402.51,250.3v-5.3M402.51,10.3v5.3M48.0,238.30h5.3M408.0,238.30h-5.3M48.0,226.30h5.3M408.0,226.30h-5.3M48.0,214.30h5.3M408.0,214.30h-5.3M48.0,202.30h5.3M408.0,202.30h-5.3M48.0,190.30h10.5M408.0,190.30h-10.5M48.0,178.30h5.3M408.0,178.30h-5.3M48.0,166.30h5.3M408.0,166.30h-5.3M48.0,154.30h5.3M408.0,154.30h-5.3M48.0,142.30h5.3M408.0,142.30h-5.3M48.0,130.30h10.5M408.0,130.30h-10.5M48.0,118.30h5.3M408.0,118.30h-5.3M48.0,106.30h5.3M408.0,106.30h-5.3M48.0,94.30h5.3M408.0,94.30h-5.3M48.0,82.30h5.3M408.0,82.30h-5.3M48.0,70.30h10.5M408.0,70.30h-10.5M48.0,58.30h5.3M408.0,58.30h-5.3M48.0,46.30h5.3M408.0,46.30h-5.3M48.0,34.30h5.3M408.0,34.30h-5.3M48.0,22.30h5.3M408.0,22.30h-5.3" stroke="#1a1a1a" stroke-width="0.8" fill="none"/>
<rect x="48.0" y="10.3" width="360.0" height="240.0" fill="none" stroke="#1a1a1a" stroke-width="0.85"/>
<path d="M62.8,31.85h30.2" stroke="#0505ff" stroke-width="1.8"/>
<path d="M62.8,51.05h30.2" stroke="#0505ff" stroke-width="1.8" stroke-dasharray="8.2 5.0"/>
<path d="M62.8,70.0h30.2" stroke="#0505ff" stroke-width="1.8" stroke-dasharray="2.6 3.1"/>
<path d="M152.6,31.85h30.2" stroke="#ff3c00" stroke-width="1.8"/>
<path d="M152.6,51.05h30.2" stroke="#ff3c00" stroke-width="1.8" stroke-dasharray="8.2 5.0"/>
<path d="M152.6,70.0h30.2" stroke="#ff3c00" stroke-width="1.8" stroke-dasharray="2.6 3.1"/>
<g font-family="'Liberation Serif', serif" style="font-kerning:none">
<text transform="matrix(0.1844,0,0,0.1508,24.58,14.75)" font-size="100" font-weight="normal" fill="#1c1c1c" stroke="#1c1c1c" stroke-width="2.40" stroke-linejoin="round">15</text>
<text transform="matrix(0.1888,0,0,0.1497,24.34,74.95)" font-size="100" font-weight="normal" fill="#1c1c1c" stroke="#1c1c1c" stroke-width="2.38" stroke-linejoin="round">10</text>
<text transform="matrix(0.1763,0,0,0.1475,34.08,134.66)" font-size="100" font-weight="normal" fill="#1c1c1c" stroke="#1c1c1c" stroke-width="2.48" stroke-linejoin="round">5</text>
<text transform="matrix(0.1888,0,0,0.1526,33.98,195.15)" font-size="100" font-weight="normal" fill="#1c1c1c" stroke="#1c1c1c" stroke-width="2.36" stroke-linejoin="round">0</text>
<text transform="matrix(0.2381,0,0,0.1165,20.32,254.67)" font-size="100" font-weight="normal" fill="#1c1c1c" stroke="#1c1c1c" stroke-width="2.52" stroke-linejoin="round">−</text>
<text transform="matrix(0.1787,0,0,0.1520,34.16,254.45)" font-size="100" font-weight="normal" fill="#1c1c1c" stroke="#1c1c1c" stroke-width="2.43" stroke-linejoin="round">5</text>
<text transform="matrix(0.1796,0,0,0.1497,31.62,265.85)" font-size="100" font-weight="normal" fill="#1c1c1c" stroke="#1c1c1c" stroke-width="2.44" stroke-linejoin="round">10</text>
<text transform="matrix(0.1607,0,0,0.0964,50.01,259.85)" font-size="100" font-weight="normal" fill="#1c1c1c" stroke="#1c1c1c" stroke-width="3.37" stroke-linejoin="round">−</text>
<text transform="matrix(0.1271,0,0,0.0990,59.67,260.03)" font-size="100" font-weight="normal" fill="#1c1c1c" stroke="#1c1c1c" stroke-width="3.12" stroke-linejoin="round">3</text>
<text transform="matrix(0.1907,0,0,0.1487,153.37,265.79)" font-size="100" font-weight="normal" fill="#1c1c1c" stroke="#1c1c1c" stroke-width="2.38" stroke-linejoin="round">0.01</text>
<text transform="matrix(0.1893,0,0,0.1487,275.68,265.79)" font-size="100" font-weight="normal" fill="#1c1c1c" stroke="#1c1c1c" stroke-width="2.38" stroke-linejoin="round">0.1</text>
<text transform="matrix(0.1903,0,0,0.1530,401.33,266.00)" font-size="100" font-weight="normal" fill="#1c1c1c" stroke="#1c1c1c" stroke-width="2.34" stroke-linejoin="round">1</text>
<text transform="matrix(0.2001,0,0,0.1608,223.65,284.59)" font-size="100" font-style="italic" fill="#1c1c1c" stroke="#1c1c1c" stroke-width="2.34" stroke-linejoin="round">x</text>
<text transform="matrix(0.2084,0,0,0.1457,98.27,36.35)" font-size="100" font-style="italic" fill="#1c1c1c" stroke="#1c1c1c" stroke-width="2.41" stroke-linejoin="round">B</text>
<text transform="matrix(0.2955,0,0,0.2423,101.14,37.33)" font-size="100" font-weight="normal" fill="#1c1c1c">˜</text>
<text transform="matrix(0.1352,0,0,0.1194,112.87,30.75)" font-size="100" font-weight="normal" fill="#1c1c1c" stroke="#1c1c1c" stroke-width="3.30" stroke-linejoin="round">(1)</text>
<text transform="matrix(0.1420,0,0,0.0973,112.10,40.68)" font-size="100" font-style="italic" fill="#1c1c1c" stroke="#1c1c1c" stroke-width="3.57" stroke-linejoin="round">u</text>
<text transform="matrix(0.1462,0,0,0.1225,97.72,53.38)" font-size="100" font-style="italic" fill="#1c1c1c" stroke="#1c1c1c" stroke-width="3.14" stroke-linejoin="round">q</text>
<text transform="matrix(0.2383,0,0,0.2688,103.14,54.91)" font-size="100" font-weight="normal" fill="#1c1c1c">→</text>
<text transform="matrix(0.1806,0,0,0.1249,124.51,53.34)" font-size="100" font-style="italic" fill="#1c1c1c" stroke="#1c1c1c" stroke-width="2.80" stroke-linejoin="round">u</text>
<text transform="matrix(0.1463,0,0,0.1372,97.80,72.47)" font-size="100" font-style="italic" fill="#1c1c1c" stroke="#1c1c1c" stroke-width="2.96" stroke-linejoin="round">g</text>
<text transform="matrix(0.2383,0,0,0.2688,103.14,73.51)" font-size="100" font-weight="normal" fill="#1c1c1c">→</text>
<text transform="matrix(0.1806,0,0,0.1249,124.51,71.94)" font-size="100" font-style="italic" fill="#1c1c1c" stroke="#1c1c1c" stroke-width="2.80" stroke-linejoin="round">u</text>
<text transform="matrix(0.2084,0,0,0.1457,188.17,36.35)" font-size="100" font-style="italic" fill="#1c1c1c" stroke="#1c1c1c" stroke-width="2.41" stroke-linejoin="round">B</text>
<text transform="matrix(0.2955,0,0,0.2423,191.04,37.33)" font-size="100" font-weight="normal" fill="#1c1c1c">˜</text>
<text transform="matrix(0.1352,0,0,0.1194,202.77,30.75)" font-size="100" font-weight="normal" fill="#1c1c1c" stroke="#1c1c1c" stroke-width="3.30" stroke-linejoin="round">(2)</text>
<text transform="matrix(0.1420,0,0,0.0973,202.00,40.68)" font-size="100" font-style="italic" fill="#1c1c1c" stroke="#1c1c1c" stroke-width="3.57" stroke-linejoin="round">u</text>
<text transform="matrix(0.1462,0,0,0.1225,187.62,53.38)" font-size="100" font-style="italic" fill="#1c1c1c" stroke="#1c1c1c" stroke-width="3.14" stroke-linejoin="round">q</text>
<text transform="matrix(0.2383,0,0,0.2688,193.04,54.91)" font-size="100" font-weight="normal" fill="#1c1c1c">→</text>
<text transform="matrix(0.1806,0,0,0.1249,214.41,53.34)" font-size="100" font-style="italic" fill="#1c1c1c" stroke="#1c1c1c" stroke-width="2.80" stroke-linejoin="round">u</text>
<text transform="matrix(0.1463,0,0,0.1372,187.70,72.47)" font-size="100" font-style="italic" fill="#1c1c1c" stroke="#1c1c1c" stroke-width="2.96" stroke-linejoin="round">g</text>
<text transform="matrix(0.2383,0,0,0.2688,193.04,73.51)" font-size="100" font-weight="normal" fill="#1c1c1c">→</text>
<text transform="matrix(0.1806,0,0,0.1249,214.41,71.94)" font-size="100" font-style="italic" fill="#1c1c1c" stroke="#1c1c1c" stroke-width="2.80" stroke-linejoin="round">u</text>
<text transform="matrix(0.1449,0,0,0.1254,60.32,92.22)" font-size="100" font-style="italic" fill="#1c1c1c" stroke="#1c1c1c" stroke-width="2.37" stroke-linejoin="round">t</text>
<text transform="matrix(0.1056,0,0,0.0920,65.23,89.55)" font-size="100" font-weight="normal" fill="#1c1c1c" stroke="#1c1c1c" stroke-width="3.25" stroke-linejoin="round">1/2</text>
<text transform="matrix(0.0946,0,0,0.0869,65.76,95.96)" font-size="100" font-weight="normal" fill="#1c1c1c" stroke="#1c1c1c" stroke-width="3.53" stroke-linejoin="round">max</text>
<text transform="matrix(0.1865,0,0,0.1112,83.83,93.64)" font-size="100" font-weight="normal" fill="#1c1c1c" stroke="#1c1c1c" stroke-width="2.22" stroke-linejoin="round">=</text>
<text transform="matrix(0.1337,0,0,0.1112,96.57,91.96)" font-size="100" font-style="italic" fill="#1c1c1c" stroke="#1c1c1c" stroke-width="2.62" stroke-linejoin="round">μ</text>
<text transform="matrix(0.1135,0,0,0.0788,104.35,93.62)" font-size="100" font-style="italic" fill="#1c1c1c" stroke="#1c1c1c" stroke-width="3.38" stroke-linejoin="round">B</text>
<text transform="matrix(0.1822,0,0,0.1112,112.55,93.64)" font-size="100" font-weight="normal" fill="#1c1c1c" stroke="#1c1c1c" stroke-width="2.25" stroke-linejoin="round">=</text>
<text transform="matrix(0.1223,0,0,0.1079,124.47,92.53)" font-size="100" font-weight="normal" fill="#1c1c1c" stroke="#1c1c1c" stroke-width="2.79" stroke-linejoin="round">30</text>
<text transform="matrix(0.1317,0,0,0.1104,139.62,92.57)" font-size="100" font-weight="normal" fill="#1c1c1c" stroke="#1c1c1c" stroke-width="2.65" stroke-linejoin="round">GeV</text>
<g transform="rotate(-90)">
<text transform="matrix(0.2217,0,0,0.1786,-181.88,20.82)" font-size="100" font-style="italic" fill="#1c1c1c" stroke="#1c1c1c" stroke-width="1.26" stroke-linejoin="round">B</text>
<text transform="matrix(0.2750,0,0,0.1954,-179.54,16.27)" font-size="100" font-weight="normal" fill="#1c1c1c">˜</text>
<text transform="matrix(0.1421,0,0,0.1259,-167.88,14.48)" font-size="100"  fill="#1c1c1c" stroke="#1c1c1c" stroke-width="2.09" stroke-linejoin="round"><tspan font-weight="normal">(</tspan><tspan font-style="italic">n</tspan><tspan font-weight="normal">)</tspan></text>
<text transform="matrix(0.1642,0,0,0.1275,-168.97,26.00)" font-size="100" font-style="italic" fill="#1c1c1c" stroke="#1c1c1c" stroke-width="2.07" stroke-linejoin="round">u</text>
<text transform="matrix(0.2627,0,0,0.2496,-148.90,24.26)" font-size="100" font-weight="normal" fill="#1c1c1c">/</text>
<text transform="matrix(0.2183,0,0,0.1786,-138.28,20.82)" font-size="100" font-style="italic" fill="#1c1c1c" stroke="#1c1c1c" stroke-width="1.27" stroke-linejoin="round">B</text>
<text transform="matrix(0.2939,0,0,0.1954,-136.26,16.27)" font-size="100" font-weight="normal" fill="#1c1c1c">˜</text>
<text transform="matrix(0.1282,0,0,0.1304,-125.22,14.98)" font-size="100" font-weight="normal" fill="#1c1c1c" stroke="#1c1c1c" stroke-width="2.17" stroke-linejoin="round">(0)</text>
<text transform="matrix(0.1497,0,0,0.1232,-126.30,25.51)" font-size="100" font-style="italic" fill="#1c1c1c" stroke="#1c1c1c" stroke-width="2.21" stroke-linejoin="round">u</text>
<text transform="matrix(0.1100,0,0,0.2012,-101.39,22.08)" font-size="100" font-weight="normal" fill="#1c1c1c" stroke="#1c1c1c" stroke-width="1.68" stroke-linejoin="round">[</text>
<text transform="matrix(0.1694,0,0,0.1968,-96.65,21.22)" font-size="100" font-weight="normal" fill="#1c1c1c" stroke="#1c1c1c" stroke-width="1.37" stroke-linejoin="round">%</text>
<text transform="matrix(0.1100,0,0,0.2012,-82.17,22.08)" font-size="100" font-weight="normal" fill="#1c1c1c" stroke="#1c1c1c" stroke-width="1.68" stroke-linejoin="round">]</text>
</g>
</g>
</svg>
</body></html>
